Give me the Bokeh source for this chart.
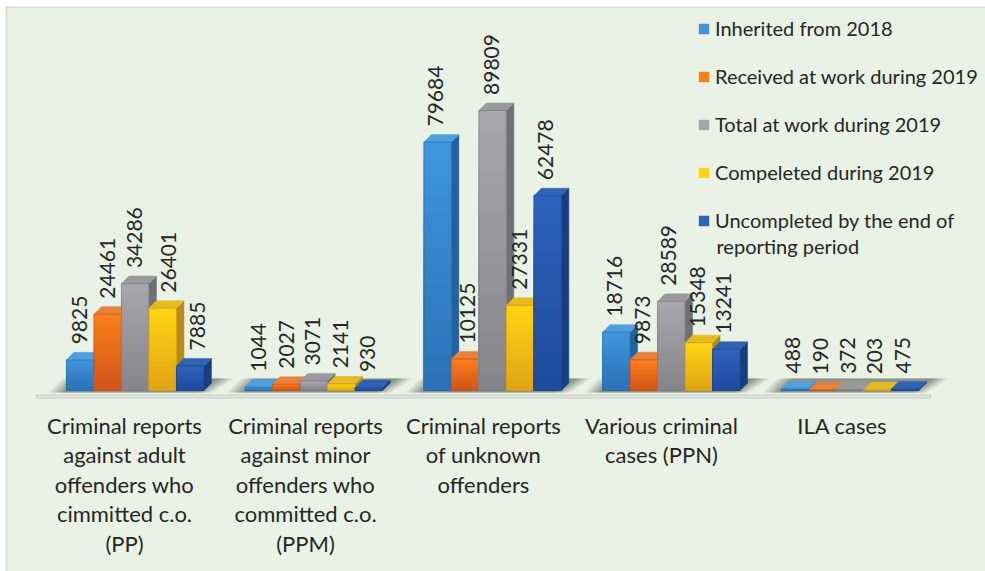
from bokeh.plotting import figure
from bokeh.models import Legend, LegendItem, Range1d
from bokeh.core.properties import value
from bokeh.embed import file_html
from bokeh.resources import INLINE

# ---- data ----
category_lines = [
    ["Criminal reports", "against adult", "offenders who", "cimmitted c.o.", "(PP)"],
    ["Criminal reports", "against minor", "offenders who", "committed c.o.", "(PPM)"],
    ["Criminal reports", "of unknown", "offenders"],
    ["Various criminal", "cases (PPN)"],
    ["ILA cases"],
]
series_names = [
    "Inherited from 2018",
    "Received at work during 2019",
    "Total at work during 2019",
    "Compeleted during 2019",
    "Uncompleted by the end of",
]
series_name_second_line = "reporting period"
inherited = [9825, 1044, 79684, 18716, 488]
received = [24461, 2027, 10125, 9873, 190]
total = [34286, 3071, 89809, 28589, 372]
completed = [26401, 2141, 27331, 15348, 203]
uncompleted = [7885, 930, 62478, 13241, 475]
series = [inherited, received, total, completed, uncompleted]

# ---- styling / layout ----
W, H = 985, 571
LEFT, TOP = 5, 6
FONT = "Lato"
BG = "#e9f2e4"
INK = "#262626"
top_cols = ["#3f95dc", "#f97d18", "#a6a6ab", "#ffd312", "#2d62bd"]
bot_cols = ["#2c72b8", "#d2561a", "#85858b", "#e0a414", "#1f4b9c"]
side_cols = ["#23629f", "#b5501a", "#6f6f74", "#b48c1c", "#183d80"]
cap_cols = ["#4f9fdf", "#e8823a", "#9a9a9e", "#e6bb22", "#2f62b0"]
edge_cols = ["#2a6aa8", "#c04f18", "#77777c", "#c8961a", "#1b448f"]

# horizontal nudges of the value labels, in pixels (one row per series)
label_nudge = [
    [-1, 0, -2, -2, -2],
    [0, 0, 2, -1, -2],
    [-1, -1, -1, -3, -2],
    [6, -1, -1, -1, -3],
    [7, -1, -2, -3, -2],
]

GROUP_PX = 178.7
PX_PER_UNIT = 0.003118
BASE_PX = 390
FIRST_CENTRE_PX = 134.7
x0 = -(FIRST_CENTRE_PX - LEFT) / GROUP_PX
y1 = (BASE_PX - TOP) / PX_PER_UNIT
BAR = 27.5 / GROUP_PX
DX = 7.5 / GROUP_PX
DY = 7.5 / PX_PER_UNIT
N_BANDS = 14


def mix(a, b, t):
    ca = [int(a[i:i + 2], 16) for i in (1, 3, 5)]
    cb = [int(b[i:i + 2], 16) for i in (1, 3, 5)]
    return "#%02x%02x%02x" % tuple(round(p + (q - p) * t) for p, q in zip(ca, cb))


def px_x(px):
    return (px - FIRST_CENTRE_PX) / GROUP_PX


def px_y(px):
    return (BASE_PX - px) / PX_PER_UNIT


p = figure(frame_width=W - LEFT, frame_height=H - TOP, output_backend="svg", toolbar_location=None,
           x_range=Range1d(x0, x0 + (W - LEFT) / GROUP_PX),
           y_range=Range1d(y1 - (H - TOP) / PX_PER_UNIT, y1),
           min_border=0, min_border_left=LEFT, min_border_top=TOP,
           outline_line_color=None,
           background_fill_color=BG, border_fill_color="white")
p.axis.visible = False
p.grid.visible = False

# panel edge on the left and on top
p.segment(x0=[px_x(6), px_x(5)], y0=[px_y(6), px_y(6.5)], x1=[px_x(6), px_x(985)], y1=[px_y(571), px_y(6.5)],
          line_color="#dcdcdc", line_width=2)

# floor shadow behind each group
n_groups = len(category_lines)
for inset, alpha in [(0.0, 0.12), (0.02, 0.16), (0.04, 0.20), (0.06, 0.25), (0.08, 0.25)]:
    xs, ys = [], []
    for g in range(n_groups):
        xs.append([g - 0.484 + inset, g + 0.43 - inset, g + 0.55 - inset, g - 0.405 + inset])
        ys.append([px_y(392), px_y(392), px_y(378), px_y(378)])
    p.patches(xs, ys, fill_color="#5f665d", fill_alpha=alpha, line_color=None)

# floor strip under the chart
p.quad(left=[px_x(36)], right=[px_x(930)], top=[px_y(394.5)], bottom=[px_y(397.5)],
       fill_color="#dfe5e2", line_color="#c6ccc9", line_width=1)

# bars: side, cap and a banded front
legend_items = []
for s, vals in enumerate(series):
    lefts = [g + (s - 2.5) * BAR for g in range(n_groups)]
    rights = [l + BAR for l in lefts]
    side_x = [[r, r + DX, r + DX, r] for r in rights]
    side_y = [[0, DY, v + DY, v] for v in vals]
    cap_x = [[l, l + DX, r + DX, r] for l, r in zip(lefts, rights)]
    cap_y = [[v, v + DY, v + DY, v] for v in vals]
    p.patches(side_x, side_y, fill_color=side_cols[s], line_color=side_cols[s], line_width=0.5)
    p.patches(cap_x, cap_y, fill_color=cap_cols[s], line_color=cap_cols[s], line_width=0.5)
    first = None
    for b in range(N_BANDS):
        col = mix(top_cols[s], bot_cols[s], b / (N_BANDS - 1))
        r = p.quad(left=lefts, right=rights, bottom=[0] * n_groups,
                   top=[v * (1 - b / N_BANDS) for v in vals],
                   fill_color=col, line_color=None)
        first = first or r
    p.quad(left=lefts, right=rights, bottom=[0] * n_groups, top=vals, fill_color=None,
           line_color=edge_cols[s], line_width=1, line_alpha=0.7)
    legend_items.append(LegendItem(label=series_names[s], renderers=[first]))

    # value labels
    p.text([l + BAR / 2 + n / GROUP_PX for l, n in zip(lefts, label_nudge[s])],
           [v + DY for v in vals], text=[str(v) for v in vals],
           angle=1.5708, text_font=value(FONT), text_font_size="21px", text_color=INK,
           text_align="left", text_baseline="middle", y_offset=-8)

# category labels
label_centres = [-0.06, 0.953, 1.949, 2.945, 3.957]
for g, lines in enumerate(category_lines):
    for i, line in enumerate(lines):
        p.text([label_centres[g]], [0], text=[line], text_font=value(FONT), text_font_size="22px",
               text_color=INK, text_align="center", text_baseline="middle",
               y_offset=35 + i * 29.4)

legend = Legend(items=legend_items, location=(692, 339), orientation="vertical",
                background_fill_alpha=0, border_line_color=None, margin=0, padding=0,
                glyph_width=13, glyph_height=13, label_standoff=5, spacing=24,
                label_text_font=FONT, label_text_font_size="20px", label_text_color=INK,
                label_height=18)
p.add_layout(legend, "center")

p.text([px_x(716)], [px_y(245)], text=[series_name_second_line], text_font=value(FONT),
       text_font_size="20px", text_color=INK, text_align="left", text_baseline="middle")

open("out.html", "w").write(file_html(p, INLINE))
